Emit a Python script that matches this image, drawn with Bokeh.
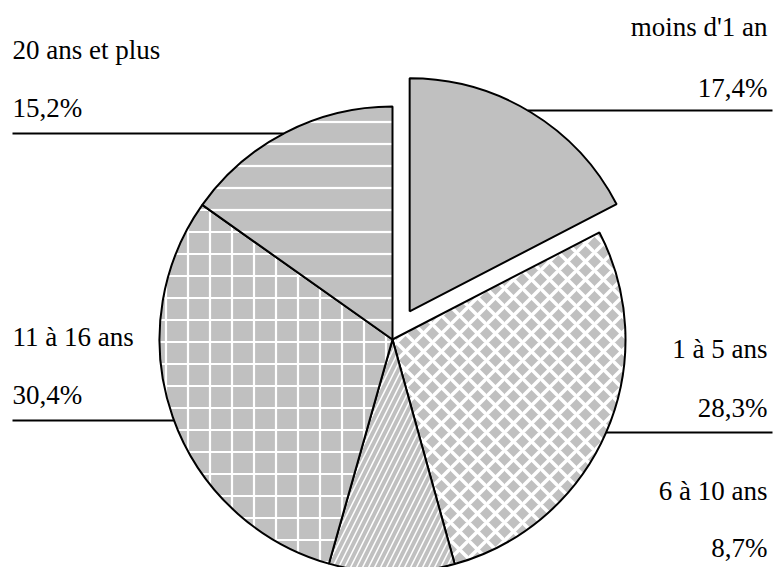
import numpy as np
from bokeh.plotting import figure
from bokeh.models import ColumnDataSource, Range1d
from bokeh.embed import file_html
from bokeh.resources import INLINE
from bokeh.core.properties import value

# Répartition par ancienneté
categories = ["moins d'1 an", "1 à 5 ans", "6 à 10 ans", "11 à 16 ans", "20 ans et plus"]
shares = [17.4, 28.3, 8.7, 30.4, 15.2]
pct_labels = ["17,4%", "28,3%", "8,7%", "30,4%", "15,2%"]

# Slice styling
patterns = [" ", "diagonal_cross", "right_diagonal_line", "cross", "horizontal_line"]
hatch_scales = [12, 18, 12, 22, 22]
hatch_weights = [1, 3.5, 1.5, 2.2, 2.2]
explode = [33, 0, 0, 0, 0]

# Label layout (pixel rows from top): side, name baseline, pct baseline, leader y
label_side = ["right", "right", "right", "left", "left"]
name_y = [36, 358, 500, 346, 59]
pct_y = [97, 417, 557, 404, 117]
leader_y = [110, 432, None, 420, 133]

W, H = 777, 567
CX, CY, R = 392, 339, 233
FONT = "Times New Roman, Liberation Serif, serif"
FS = "27px"
TEXT_SHIFT = 10  # baseline correction for the SVG text renderer

fr = np.array(shares) / sum(shares)
cum = np.concatenate([[0.0], np.cumsum(fr)])
start_deg = 90 - cum[:-1] * 360
end_deg = 90 - cum[1:] * 360
mid = np.radians((start_deg + end_deg) / 2)
off = np.array(explode, dtype=float)
cx = CX + off * np.cos(mid)
cy_up = (H - CY) + off * np.sin(mid)

src = ColumnDataSource(dict(
    x=cx, y=cy_up,
    start=np.radians(end_deg), end=np.radians(start_deg),
    pattern=patterns, hscale=hatch_scales, hweight=hatch_weights,
))

p = figure(width=W, height=H, output_backend="svg", toolbar_location=None,
           x_range=Range1d(0, W), y_range=Range1d(0, H),
           min_border=0, min_border_left=0, min_border_right=0,
           min_border_top=0, min_border_bottom=0)
p.axis.visible = False
p.grid.visible = False
p.outline_line_color = None
p.background_fill_color = "white"
p.border_fill_color = "white"

p.wedge(x="x", y="y", radius=R, start_angle="start", end_angle="end", source=src,
        fill_color="#c0c0c0", line_color="black", line_width=2,
        hatch_pattern="pattern", hatch_color="white", hatch_alpha=1.0,
        hatch_scale="hscale", hatch_weight="hweight")

# Labels and leader lines
tx, ty, tt, ta = [], [], [], []
x0s, x1s, ys = [], [], []
for i, name in enumerate(categories):
    side = label_side[i]
    xt = 767 if side == "right" else 12
    al = "right" if side == "right" else "left"
    tx += [xt, xt]
    ty += [H - name_y[i] + TEXT_SHIFT, H - pct_y[i] + TEXT_SHIFT]
    tt += [name, pct_labels[i]]
    ta += [al, al]
    ly = leader_y[i]
    if ly is not None:
        dy = (H - ly) - cy_up[i]
        dx = np.sqrt(max(R * R - dy * dy, 0.0))
        if side == "right":
            x0s.append(cx[i] + dx); x1s.append(772)
        else:
            x0s.append(12); x1s.append(cx[i] - dx)
        ys.append(H - ly)

p.segment(x0=x0s, y0=ys, x1=x1s, y1=ys, line_color="black", line_width=1.8)

p.text(x=tx, y=ty, text=tt, text_align=ta, text_baseline="alphabetic",
       text_font=value(FONT), text_font_size=FS, text_color="black")

open("out.html", "w").write(file_html(p, INLINE))
